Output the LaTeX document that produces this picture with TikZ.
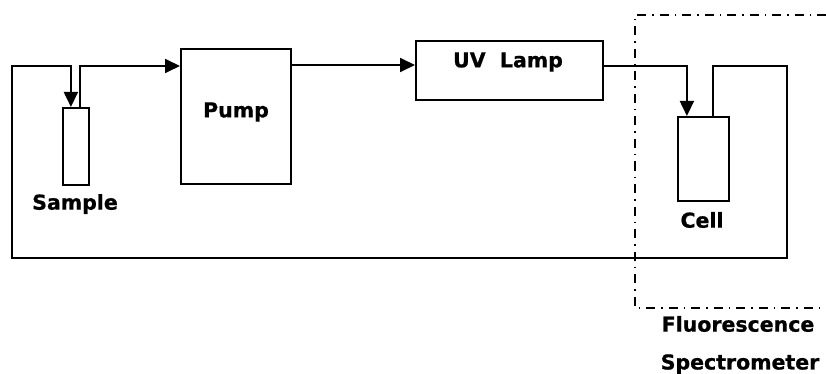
\documentclass[tikz,border=0pt]{standalone}
\usepackage{fontspec}
\setmainfont{DejaVu Sans}[BoldFeatures={FakeBold=0.8}]
\usetikzlibrary{arrows.meta,calc}
\begin{document}
\begin{tikzpicture}[x=1pt,y=-1pt,
  box/.style={draw, line width=1.8pt, inner sep=0pt, anchor=north west},
  lbl/.style={font=\fontsize{20.5}{24}\selectfont\bfseries, inner sep=0pt},
  flow/.style={line width=1.8pt, -{Triangle[length=15pt,width=14pt]}},
  frame/.style={line width=1.3pt, dash pattern=on 9pt off 6pt on 1.5pt off 6pt}]
\useasboundingbox (0,0) rectangle (826,374);
% boxes
\node[box, minimum width=26pt, minimum height=77pt] (sample) at (62,107) {};
\node[box, minimum width=110pt, minimum height=135pt] (pump) at (180,48) {};
\node[box, minimum width=187pt, minimum height=59pt] (uv) at (415,40) {};
\node[box, minimum width=51pt, minimum height=84pt] (cell) at (677,116) {};
% labels
\node[lbl] (samplelbl) at (75,204) {Sample};
\node[lbl] (pumplbl) at (236,112) {Pump};
\node[lbl] (uvlbl) at (508,62) {UV\ \ Lamp};
\node[lbl] (celllbl) at (702,220) {Cell};
\node[lbl] (fl) at (738,324) {Fluorescence};
\node[lbl] (sp) at (740,364) {Spectrometer};
% helper coordinates
\coordinate (ctr) at (787,66);
\coordinate (cbr) at (787,258);
\coordinate (cbl) at (12,258);
\coordinate (ctl) at (12,66);
\coordinate (cellout) at ($(cell.north)+(9.5,0)$);
\coordinate (cellin) at ($(cell.north)+(-16.5,0)$);
\coordinate (sampin) at ($(sample.north)+(-5,0)$);
\coordinate (sampout) at ($(sample.north)+(4,0)$);
\coordinate (pumpin) at ($(pump.north west)+(0,18)$);
\coordinate (pumpout) at ($(pump.north east)+(0,17)$);
\coordinate (uvout) at ($(uv.north east)+(0,26)$);
% connectors
\draw[flow] (cellout) -- (cellout |- ctr) -- (ctr) -- (cbr) -- (cbl) -- (ctl) -- (sampin |- ctl) -- (sampin);
\draw[flow] (sampout) |- (pumpin);
\draw[flow] (pumpout) -- (pumpout -| uv.west);
\draw[flow] (uvout) -| (cellin);
% spectrometer frame
\draw[frame] (826,15) -- (635,15) -- (635,308) -- (826,308);
\end{tikzpicture}
\end{document}
